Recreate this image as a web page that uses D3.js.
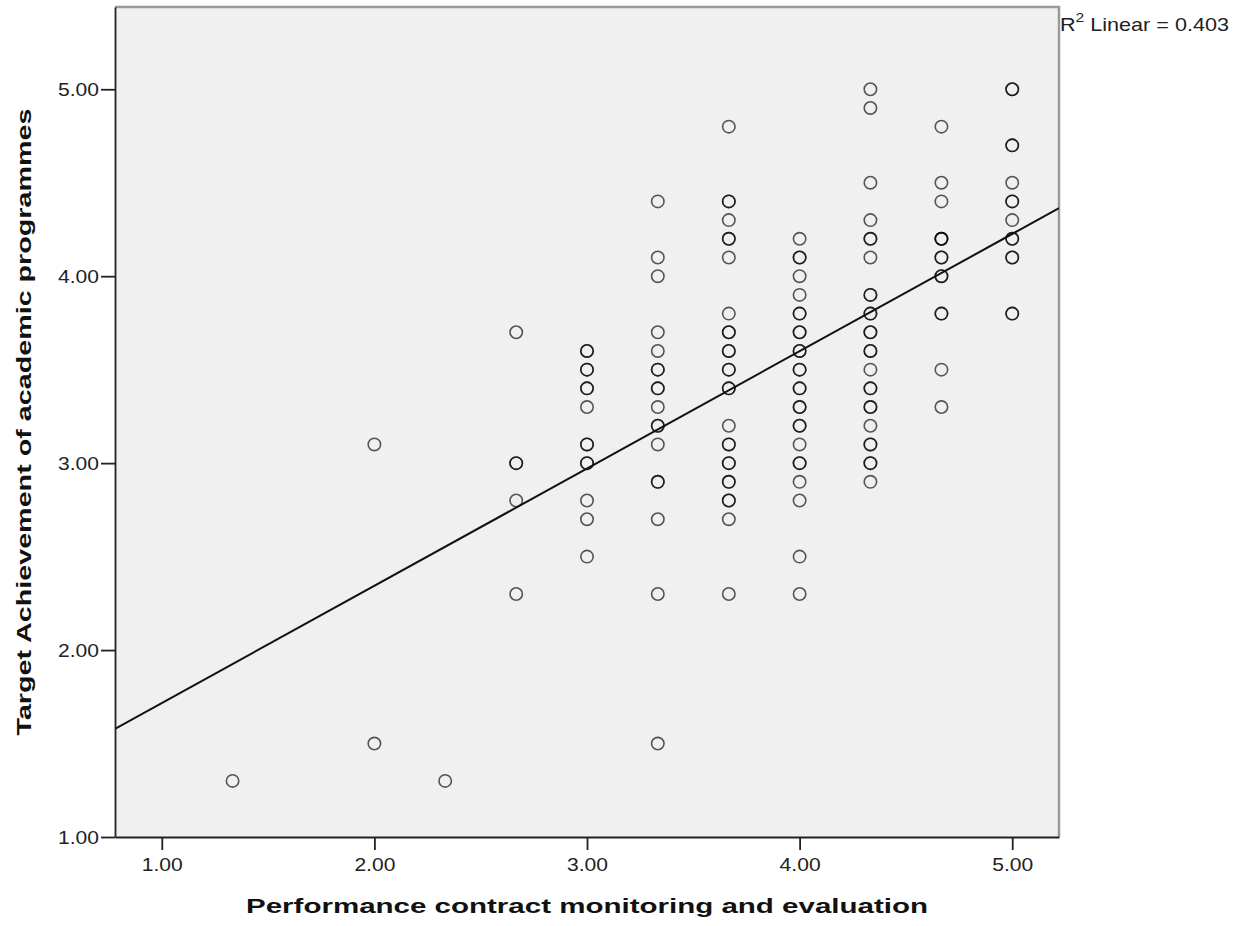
<!DOCTYPE html>
<html>
<head>
<meta charset="utf-8">
<script src="https://cdn.jsdelivr.net/npm/d3@7"></script>
<style>
  body { margin: 0; background: #ffffff; }
  svg { display: block; font-family: Arial, "Liberation Sans", sans-serif; }
</style>
</head>
<body>
<script>
// x levels (Performance contract monitoring and evaluation)
const xLevels = [1.333, 2.0, 2.333, 2.667, 3.0, 3.333, 3.667, 4.0, 4.333, 4.667, 5.0];

// y values at each x level (repeated values = overlapping cases)
const yAt1_33 = [1.3];
const yAt2_00 = [3.1, 1.5];
const yAt2_33 = [1.3];
const yAt2_67 = [3.7, 3.0, 3.0, 2.8, 2.3];
const yAt3_00 = [3.6, 3.6, 3.5, 3.5, 3.4, 3.4, 3.3, 3.1, 3.1, 3.0, 3.0, 2.8, 2.7, 2.5];
const yAt3_33 = [4.4, 4.1, 4.0, 3.7, 3.6, 3.5, 3.5, 3.4, 3.4, 3.3, 3.2, 3.2, 3.1, 2.9, 2.9, 2.7, 2.3, 1.5];
const yAt3_67 = [4.8, 4.4, 4.4, 4.3, 4.2, 4.2, 4.1, 3.8, 3.7, 3.7, 3.6, 3.6, 3.5, 3.5, 3.4, 3.4, 3.2, 3.1, 3.1, 3.0, 3.0, 2.9, 2.9, 2.8, 2.8, 2.7, 2.3];
const yAt4_00 = [4.2, 4.1, 4.1, 4.0, 3.9, 3.8, 3.8, 3.7, 3.7, 3.6, 3.6, 3.5, 3.5, 3.4, 3.4, 3.3, 3.3, 3.2, 3.2, 3.1, 3.0, 3.0, 2.9, 2.8, 2.5, 2.3];
const yAt4_33 = [5.0, 4.9, 4.5, 4.3, 4.2, 4.2, 4.1, 3.9, 3.9, 3.8, 3.8, 3.7, 3.7, 3.6, 3.6, 3.5, 3.4, 3.4, 3.3, 3.3, 3.2, 3.1, 3.1, 3.0, 3.0, 2.9];
const yAt4_67 = [4.8, 4.5, 4.4, 4.2, 4.2, 4.2, 4.1, 4.1, 4.0, 4.0, 3.8, 3.8, 3.5, 3.3];
const yAt5_00 = [5.0, 5.0, 4.7, 4.7, 4.5, 4.4, 4.4, 4.3, 4.2, 4.2, 4.1, 4.1, 3.8, 3.8];

const yColumns = [yAt1_33, yAt2_00, yAt2_33, yAt2_67, yAt3_00, yAt3_33, yAt3_67, yAt4_00, yAt4_33, yAt4_67, yAt5_00];

// fit line
const fitIntercept = 1.089;
const fitSlope = 0.6274;
const r2Value = "0.403";

const xTicks = [1, 2, 3, 4, 5];
const yTicks = [1, 2, 3, 4, 5];

const xTitle = "Performance contract monitoring and evaluation";
const yTitle = "Target Achievement of academic programmes";

let points = [];
xLevels.forEach(function(xv, i) {
  yColumns[i].forEach(function(yv) {
    points.push({x: xv, y: yv});
  });
});

const W = 1242, H = 926;
const plotLeft = 115, plotTop = 7, plotRight = 1059, plotBottom = 837;

const x = d3.scaleLinear().domain([0.78, 5.22]).range([plotLeft, plotRight]);
const y = d3.scaleLinear().domain([1.0, 5.44]).range([plotBottom, plotTop]);

const svg = d3.select('body')
  .append('svg')
  .attr('width', W)
  .attr('height', H);

// plot background
svg.append('rect')
  .attr('x', plotLeft)
  .attr('y', plotTop)
  .attr('width', plotRight - plotLeft)
  .attr('height', plotBottom - plotTop)
  .attr('fill', '#f0f0f0');

// top and right frame
svg.append('path')
  .attr('d', 'M' + plotLeft + ',' + plotTop + 'H' + plotRight + 'V' + plotBottom)
  .attr('fill', 'none')
  .attr('stroke', '#9a9a9a')
  .attr('stroke-width', 2.5);

svg.append('defs').append('clipPath')
  .attr('id', 'plotclip')
  .append('rect')
  .attr('x', plotLeft)
  .attr('y', plotTop)
  .attr('width', plotRight - plotLeft)
  .attr('height', plotBottom - plotTop);

// points
svg.append('g')
  .selectAll('circle')
  .data(points)
  .enter()
  .append('circle')
  .attr('cx', function(d) { return x(d.x); })
  .attr('cy', function(d) { return y(d.y); })
  .attr('r', 6.2)
  .attr('fill', 'none')
  .attr('stroke', '#000')
  .attr('stroke-opacity', 0.65)
  .attr('stroke-width', 1.6);

// regression line
const xd = x.domain();
svg.append('line')
  .attr('clip-path', 'url(#plotclip)')
  .attr('x1', x(xd[0]))
  .attr('y1', y(fitIntercept + fitSlope * xd[0]))
  .attr('x2', x(xd[1]))
  .attr('y2', y(fitIntercept + fitSlope * xd[1]))
  .attr('stroke', '#111')
  .attr('stroke-width', 2);

// axes
const xAxis = svg.append('g')
  .attr('transform', 'translate(0,' + plotBottom + ')')
  .call(d3.axisBottom(x).tickValues(xTicks).tickFormat(d3.format('.2f')).tickSize(13).tickPadding(7.5).tickSizeOuter(0));

const yAxis = svg.append('g')
  .attr('transform', 'translate(' + plotLeft + ',0)')
  .call(d3.axisLeft(y).tickValues(yTicks).tickFormat(d3.format('.2f')).tickSize(14).tickPadding(2).tickSizeOuter(0));

[xAxis, yAxis].forEach(function(a) {
  a.select('.domain').attr('stroke', '#222').attr('stroke-width', 1.8);
  a.selectAll('.tick line').attr('stroke', '#222').attr('stroke-width', 1.8);
  a.selectAll('.tick text')
    .attr('fill', '#222')
    .style('font-size', '19px')
    .attr('textLength', 41)
    .attr('lengthAdjust', 'spacingAndGlyphs');
});

// axis titles
svg.append('text')
  .attr('x', (plotLeft + plotRight) / 2)
  .attr('y', 913)
  .attr('text-anchor', 'middle')
  .attr('font-weight', 'bold')
  .attr('font-size', 21)
  .attr('fill', '#111')
  .attr('textLength', 682)
  .attr('lengthAdjust', 'spacingAndGlyphs')
  .text(xTitle);

svg.append('text')
  .attr('transform', 'translate(31,' + ((plotTop + plotBottom) / 2) + ') rotate(-90)')
  .attr('text-anchor', 'middle')
  .attr('font-weight', 'bold')
  .attr('font-size', 21)
  .attr('fill', '#111')
  .attr('textLength', 627)
  .attr('lengthAdjust', 'spacingAndGlyphs')
  .text(yTitle);

// R2 label
const r2 = svg.append('text')
  .attr('transform', 'translate(1060,31) scale(1.2,1)')
  .attr('font-size', 18)
  .attr('fill', '#222');
r2.append('tspan').text('R');
r2.append('tspan').attr('font-size', 13).attr('dy', -9).text('2');
r2.append('tspan').attr('dy', 9).text(' Linear = ' + r2Value);
</script>
</body>
</html>
